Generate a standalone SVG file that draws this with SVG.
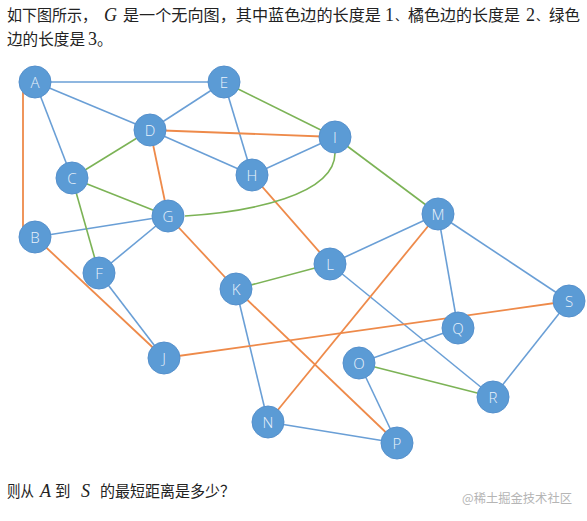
<svg xmlns="http://www.w3.org/2000/svg" width="587" height="521" viewBox="0 0 587 521">
<style>
.t{font-family:"Noto Sans CJK SC","Noto Sans",sans-serif;font-size:15.5px;fill:#222}
.p{font-family:"Noto Sans CJK SC","Noto Sans",sans-serif;font-size:12px;fill:#222}
.m{font-family:"Liberation Serif",serif;font-style:italic;font-size:18px;fill:#222}
.d{font-family:"Liberation Serif",serif;font-size:18px;fill:#222}
.b{stroke:#6A9FD6;stroke-width:1.6;fill:none}
.o{stroke:#EE8A4A;stroke-width:1.8;fill:none}
.g{stroke:#7CB356;stroke-width:1.6;fill:none}
.n circle{fill:#5B9BD5;stroke:#5590cc;stroke-width:1}
.n text{font-family:"Open Sans","Noto Sans",sans-serif;font-weight:300;font-size:15px;fill:#EAF2FB;text-anchor:middle;dominant-baseline:central}
.w{font-family:"Noto Sans CJK SC",sans-serif;font-size:12.5px;fill:#b5b5b5}
</style>
<rect width="587" height="521" fill="#fff"/>
<g id="question">
<text class="t" x="7" y="21" textLength="90" lengthAdjust="spacingAndGlyphs">如下图所示，</text>
<text class="m" x="104" y="21">G</text>
<text class="t" x="123" y="21" textLength="258" lengthAdjust="spacingAndGlyphs">是一个无向图，其中蓝色边的长度是</text>
<text class="d" x="385" y="21">1</text>
<text class="p" x="395" y="21">、</text>
<text class="t" x="408" y="21" textLength="112" lengthAdjust="spacingAndGlyphs">橘色边的长度是</text>
<text class="d" x="526" y="21">2</text>
<text class="p" x="536" y="21">、</text>
<text class="t" x="549" y="21" textLength="31" lengthAdjust="spacingAndGlyphs">绿色</text>
<text class="t" x="7" y="45" textLength="78" lengthAdjust="spacingAndGlyphs">边的长度是</text>
<text class="d" x="88" y="45">3</text>
<text class="t" x="97" y="45">。</text>
</g>
<g id="connectors">
<line class="b" x1="35" y1="82" x2="224" y2="82"/>
<line class="b" x1="35" y1="82" x2="150" y2="130"/>
<line class="b" x1="35" y1="82" x2="72" y2="178"/>
<line class="b" x1="224" y1="82" x2="150" y2="130"/>
<line class="b" x1="224" y1="82" x2="252" y2="175"/>
<line class="b" x1="150" y1="130" x2="252" y2="175"/>
<line class="b" x1="252" y1="175" x2="335" y2="137"/>
<line class="b" x1="168" y1="216" x2="35" y2="237"/>
<line class="b" x1="168" y1="216" x2="99" y2="273"/>
<line class="b" x1="99" y1="273" x2="164" y2="358"/>
<line class="b" x1="330" y1="264" x2="438" y2="214"/>
<line class="b" x1="438" y1="214" x2="458" y2="328"/>
<line class="b" x1="438" y1="214" x2="569" y2="301"/>
<line class="b" x1="330" y1="264" x2="493" y2="397"/>
<line class="b" x1="458" y1="328" x2="359" y2="363"/>
<line class="b" x1="359" y1="363" x2="397" y2="443"/>
<line class="b" x1="268" y1="422" x2="397" y2="443"/>
<line class="b" x1="236" y1="289" x2="268" y2="422"/>
<line class="b" x1="569" y1="301" x2="493" y2="397"/>
<line class="o" x1="23" y1="82" x2="23" y2="237"/>
<line class="o" x1="150" y1="130" x2="335" y2="137"/>
<line class="o" x1="150" y1="130" x2="168" y2="216"/>
<line class="o" x1="168" y1="216" x2="236" y2="289"/>
<line class="o" x1="252" y1="175" x2="330" y2="264"/>
<line class="o" x1="35" y1="237" x2="164" y2="358"/>
<line class="o" x1="236" y1="289" x2="397" y2="443"/>
<line class="o" x1="438" y1="214" x2="268" y2="422"/>
<line class="o" x1="164" y1="358" x2="569" y2="301"/>
<line class="g" x1="224" y1="82" x2="335" y2="137"/>
<line class="g" x1="335" y1="137" x2="438" y2="214"/>
<line class="g" x1="150" y1="130" x2="72" y2="178"/>
<line class="g" x1="72" y1="178" x2="168" y2="216"/>
<line class="g" x1="72" y1="178" x2="99" y2="273"/>
<line class="g" x1="236" y1="289" x2="330" y2="264"/>
<line class="g" x1="359" y1="363" x2="493" y2="397"/>
<path class="g" d="M185,216 C250,212 335,195 335,153"/>
</g>
<g id="A" class="n"><circle cx="35" cy="82" r="16"/><text x="35" y="82">A</text></g>
<g id="E" class="n"><circle cx="224" cy="82" r="16"/><text x="224" y="82">E</text></g>
<g id="D" class="n"><circle cx="150" cy="130" r="16"/><text x="150" y="130">D</text></g>
<g id="I" class="n"><circle cx="335" cy="137" r="16"/><text x="335" y="137">I</text></g>
<g id="C" class="n"><circle cx="72" cy="178" r="16"/><text x="72" y="178">C</text></g>
<g id="H" class="n"><circle cx="252" cy="175" r="16"/><text x="252" y="175">H</text></g>
<g id="G" class="n"><circle cx="168" cy="216" r="16"/><text x="168" y="216">G</text></g>
<g id="B" class="n"><circle cx="35" cy="237" r="16"/><text x="35" y="237">B</text></g>
<g id="M" class="n"><circle cx="438" cy="214" r="16"/><text x="438" y="214">M</text></g>
<g id="F" class="n"><circle cx="99" cy="273" r="16"/><text x="99" y="273">F</text></g>
<g id="L" class="n"><circle cx="330" cy="264" r="16"/><text x="330" y="264">L</text></g>
<g id="K" class="n"><circle cx="236" cy="289" r="16"/><text x="236" y="289">K</text></g>
<g id="S" class="n"><circle cx="569" cy="301" r="16"/><text x="569" y="301">S</text></g>
<g id="Q" class="n"><circle cx="458" cy="328" r="16"/><text x="458" y="328">Q</text></g>
<g id="J" class="n"><circle cx="164" cy="358" r="16"/><text x="164" y="358">J</text></g>
<g id="O" class="n"><circle cx="359" cy="363" r="16"/><text x="359" y="363">O</text></g>
<g id="R" class="n"><circle cx="493" cy="397" r="16"/><text x="493" y="397">R</text></g>
<g id="N" class="n"><circle cx="268" cy="422" r="16"/><text x="268" y="422">N</text></g>
<g id="P" class="n"><circle cx="397" cy="443" r="16"/><text x="397" y="443">P</text></g>
<g id="footer">
<text class="t" x="7" y="497" textLength="27" lengthAdjust="spacingAndGlyphs">则从</text>
<text class="m" x="40" y="497">A</text>
<text class="t" x="55" y="497">到</text>
<text class="m" x="81" y="497">S</text>
<text class="t" x="100" y="497" textLength="135" lengthAdjust="spacingAndGlyphs">的最短距离是多少？</text>
<text class="w" x="462" y="503" textLength="110" lengthAdjust="spacingAndGlyphs">@稀土掘金技术社区</text>
</g>
</svg>
